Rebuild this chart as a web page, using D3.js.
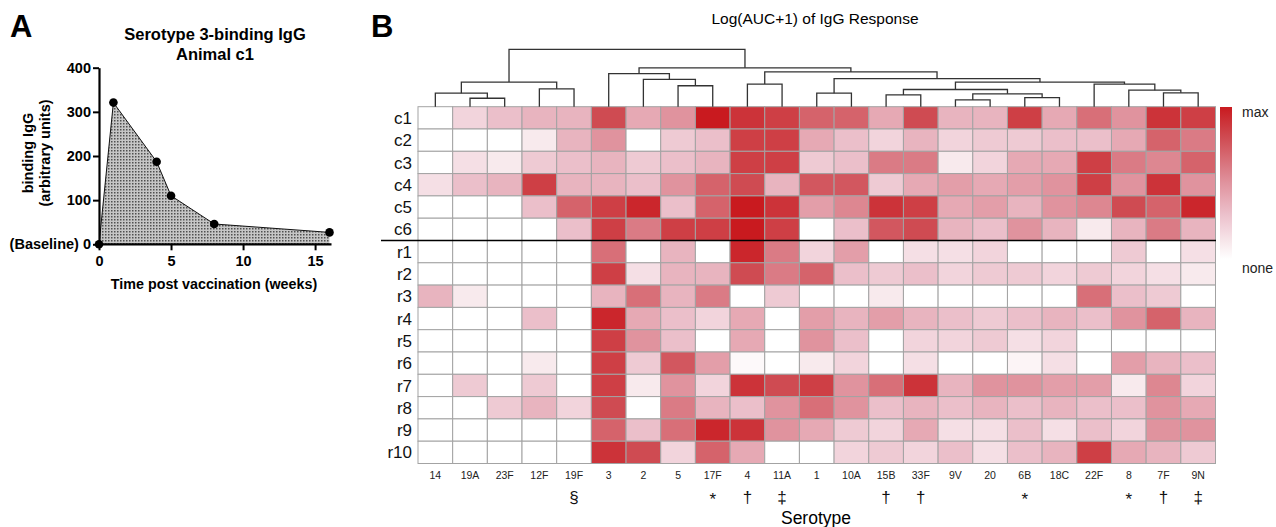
<!DOCTYPE html>
<html>
<head>
<meta charset="utf-8">
<script src="https://cdn.jsdelivr.net/npm/d3@7"></script>
<style>
  body { margin: 0; background: #fff; }
  text { font-family: "Liberation Sans", Arial, sans-serif; }
</style>
</head>
<body>
<div id="chart"></div>
<script>
// ---- panel A data: serotype 3 binding IgG, animal c1
var weeks = [0, 1, 4, 5, 8, 16];
var binding = [0, 321, 187, 110, 46, 27];
var yTicksA = [0, 100, 200, 300, 400];
var xTicksA = [0, 5, 10, 15];

// ---- panel B data
var serotypes = ["14","19A","23F","12F","19F","3","2","5","17F","4","11A","1","10A","15B","33F","9V","20","6B","18C","22F","8","7F","9N"];
var footnotes = ["","","","","§","","","","*","†","‡","","","†","†","","","*","","","*","†","‡"];
var animals = ["c1","c2","c3","c4","c5","c6","r1","r2","r3","r4","r5","r6","r7","r8","r9","r10"];
// response on a 0 (none) .. 10 (max) scale, rows = animals, cols = serotypes
var response = [
  [0,2,3,3.5,3.5,8,4,5,10,9,8.5,7,7,4,8,3.5,3.5,8.5,4,6.5,5,9,8.5],
  [0,0,0,1,3.5,5,0,2.5,3,8.5,8.5,4,3,2,3.5,2,2.5,2.5,3,3,4,7,6],
  [0,1.5,1,2.5,3,3.5,2.5,3,3.5,8.5,8.5,2.5,3,6,6,1,2,4,4,8.5,6,5.5,7],
  [1.5,3,3.5,8.5,3.5,3.5,3,5,7,8,3.5,7.5,7.5,2.5,4,4.5,4,4.5,5,8.5,5,9,5],
  [0,0,0,3,7,8.5,9.5,3,7,10,9,4.5,5.5,9,8.5,4,4.5,3.5,5,5.5,8,7,9.5],
  [0,0,0,0,3,8.5,6,8.5,8.5,10,8.5,0,3,7.5,8,3.5,3,5,3.5,1,3.5,6,3.5],
  [0,0,0,0,0,6.5,0,3.5,0,9.5,6,2,4.5,0,1.5,1.5,2,0,0,0,2.5,0,1.5],
  [0,0,0,0,0,8.5,1.5,3.5,3.5,8,6,7,3,2.5,3,2,2.5,2.5,2,2.5,2,1.5,1],
  [3.5,1,0,0,0,3.5,6.5,3.5,6,0,2.5,0,0,1,0,0,0,0,0,6.5,3,2.5,0],
  [0,0,0,3,0,9.5,4,3,2,4,0,4.5,3.5,4.5,3.5,3,2.5,3,3.5,3,5,7,3.5],
  [0,0,0,0,0,8.5,5,3,0,4,0,5,3,0,2,2,2.5,1.5,2,0,0,0,0],
  [0,0,0,1,0,8.5,2.5,7.5,4.5,0.3,0,1,2,0,1.5,0,0,0.5,1.5,0,4.5,3.5,3],
  [0,2.5,0,2.5,0,8.5,1,5,2,9,8,8.5,5,6.5,9,3.5,5,5,4.5,4.5,1,5.5,2],
  [0,0,2.5,3.5,2,8,0,6,3.5,3,5,6.5,5,3,3.5,3,3.5,3,3.5,3,3,5,4],
  [0,0,0,0,0,7,3,6.5,9.5,9,5,4,2.5,2,4,1.5,1.5,3,1.5,3,2,5,5],
  [0,0,0,0,0,9,8,2,7,4,0,0,2,2.5,2,3,1.5,3,3.5,8.5,4,3.5,2.5]
];
// hierarchical clustering of serotypes: [left, right, height]; leaves 0..22, merges 23..
var linkage = [
  [15,16,20],[1,2,25],[17,18,27],[13,14,35],[23,25,38],[0,24,40],[11,12,40],
  [21,22,41],[20,30,49],[26,27,51],[3,4,53],[7,8,62],[9,10,67],[19,31,67],
  [28,33,73],[32,36,73],[6,34,81],[29,38,83],[5,39,98],[35,40,103],[41,42,115],[37,43,170]
];

var svg = d3.select("#chart").append("svg")
  .attr("width", 1276).attr("height", 527);

var defs = svg.append("defs");
var pat = defs.append("pattern").attr("id", "dots")
  .attr("patternUnits", "userSpaceOnUse").attr("width", 3).attr("height", 3);
pat.append("rect").attr("width", 3).attr("height", 3).attr("fill", "#c6c6c6");
pat.append("rect").attr("x", 0).attr("y", 0).attr("width", 1.5).attr("height", 1.5).attr("fill", "#505050");

// ================= Panel A =================
var gA = svg.append("g");
var xA = d3.scaleLinear().domain([0, 16]).range([99, 329.5]);
var yA = d3.scaleLinear().domain([0, 400]).range([244.3, 67.7]);

gA.append("text").attr("x", 10).attr("y", 37).attr("font-size", 31).attr("font-weight", "bold").text("A");
gA.append("text").attr("x", 215).attr("y", 40).attr("text-anchor", "middle")
  .attr("font-size", 16.5).attr("font-weight", "bold").text("Serotype 3-binding IgG");
gA.append("text").attr("x", 215).attr("y", 60).attr("text-anchor", "middle")
  .attr("font-size", 16.5).attr("font-weight", "bold").text("Animal c1");

var pts = weeks.map(function(w, i) { return [w, binding[i]]; });

gA.append("path").datum(pts)
  .attr("d", d3.area().x(function(d) { return xA(d[0]); }).y0(yA(0)).y1(function(d) { return yA(d[1]); }))
  .attr("fill", "url(#dots)");
gA.append("path").datum(pts)
  .attr("d", d3.line().x(function(d) { return xA(d[0]); }).y(function(d) { return yA(d[1]); }))
  .attr("fill", "none").attr("stroke", "#111").attr("stroke-width", 1);

var yAxisA = gA.append("g").attr("transform", "translate(" + xA(0) + ",0)")
  .call(d3.axisLeft(yA).tickValues(yTicksA).tickSize(6).tickSizeOuter(0)
    .tickFormat(function(d) { return d === 0 ? "(Baseline) 0" : d; }));
var xAxisA = gA.append("g").attr("transform", "translate(0," + yA(0) + ")")
  .call(d3.axisBottom(xA).tickValues(xTicksA).tickSize(6).tickSizeOuter(0));
xAxisA.select(".domain").attr("d", "M" + xA(0) + ",0H" + (xA(16) + 2));
[yAxisA, xAxisA].forEach(function(ax) {
  ax.select(".domain").attr("stroke", "#000").attr("stroke-width", 2.2);
  ax.selectAll(".tick line").attr("stroke", "#000").attr("stroke-width", 2);
  ax.selectAll(".tick text").attr("font-size", 14.5).attr("font-weight", "bold")
    .attr("fill", "#000").attr("font-family", "Liberation Sans, Arial, sans-serif");
});
yAxisA.selectAll(".tick text").attr("x", -8);
xAxisA.selectAll(".tick text").attr("dy", "0.85em");

gA.selectAll(".pt").data(pts).enter().append("circle")
  .attr("cx", function(d) { return xA(d[0]); })
  .attr("cy", function(d) { return yA(d[1]); })
  .attr("r", 4.3).attr("fill", "#000");

gA.append("text").attr("x", 214).attr("y", 289).attr("text-anchor", "middle")
  .attr("font-size", 14.3).attr("font-weight", "bold").text("Time post vaccination (weeks)");
gA.append("text").attr("transform", "translate(33,153) rotate(-90)").attr("text-anchor", "middle")
  .attr("font-size", 14.5).attr("font-weight", "bold").text("binding IgG");
gA.append("text").attr("transform", "translate(50,153) rotate(-90)").attr("text-anchor", "middle")
  .attr("font-size", 14.5).attr("font-weight", "bold").text("(arbitrary units)");

// ================= Panel B =================
var gB = svg.append("g");
var x = d3.scaleBand().domain(serotypes).range([418, 1215.5]);
var y = d3.scaleBand().domain(animals).range([106.7, 463.5]);
var color = d3.scaleLinear().domain([0, 3, 5, 8, 10])
  .range(["#ffffff", "#ebbfca", "#e0939e", "#cf4b52", "#c91a1f"]);

gB.append("text").attr("x", 371).attr("y", 37).attr("font-size", 31).attr("font-weight", "bold").text("B");
gB.append("text").attr("x", 815).attr("y", 24).attr("text-anchor", "middle")
  .attr("font-size", 15.5).text("Log(AUC+1) of IgG Response");

// cells
animals.forEach(function(a, r) {
  gB.selectAll(".cell-" + a).data(response[r]).enter().append("rect")
    .attr("x", function(d, i) { return x(serotypes[i]); })
    .attr("y", y(a))
    .attr("width", x.bandwidth()).attr("height", y.bandwidth())
    .attr("fill", function(d) { return color(d); })
    .attr("stroke", "#a3a3a3").attr("stroke-width", 1);
});

// row labels
gB.selectAll(".rowlab").data(animals).enter().append("text")
  .attr("x", 412).attr("y", function(d) { return y(d) + y.bandwidth() / 2; })
  .attr("dy", "0.36em").attr("text-anchor", "end").attr("font-size", 17).attr("fill", "#111")
  .text(function(d) { return d; });

// separator between c and r animals
gB.append("line").attr("x1", 381).attr("x2", 1216)
  .attr("y1", y("r1")).attr("y2", y("r1"))
  .attr("stroke", "#000").attr("stroke-width", 1.5);

// column labels + footnote symbols
gB.selectAll(".collab").data(serotypes).enter().append("text")
  .attr("x", function(d) { return x(d) + x.bandwidth() / 2; }).attr("y", 479)
  .attr("text-anchor", "middle").attr("font-size", 10.5).attr("fill", "#222")
  .text(function(d) { return d; });
gB.selectAll(".foot").data(serotypes).enter().append("text")
  .attr("x", function(d) { return x(d) + x.bandwidth() / 2; })
  .attr("y", function(d, i) { return footnotes[i] === "*" ? 505 : 503; })
  .attr("text-anchor", "middle").attr("font-size", 17).attr("fill", "#111")
  .text(function(d, i) { return footnotes[i]; });
gB.append("text").attr("x", 816).attr("y", 524).attr("text-anchor", "middle")
  .attr("font-size", 17.5).text("Serotype");

// dendrogram
var h = d3.scaleLinear().domain([0, 170]).range([106.7, 49.3]);
var nodes = serotypes.map(function(s) { return { x: x(s) + x.bandwidth() / 2, h: 0 }; });
linkage.forEach(function(m) {
  nodes.push({ x: (nodes[m[0]].x + nodes[m[1]].x) / 2, h: m[2], l: m[0], r: m[1] });
});
gB.selectAll(".dlink").data(linkage).enter().append("path")
  .attr("d", function(m) {
    var L = nodes[m[0]], R = nodes[m[1]];
    return "M" + L.x + "," + h(L.h) + "V" + h(m[2]) + "H" + R.x + "V" + h(R.h);
  })
  .attr("fill", "none").attr("stroke", "#333").attr("stroke-width", 1.3);

// legend
var lg = defs.append("linearGradient").attr("id", "lg")
  .attr("x1", 0).attr("y1", 1).attr("x2", 0).attr("y2", 0);
d3.range(0, 10.01, 1).forEach(function(v) {
  lg.append("stop").attr("offset", (v / 10 * 100) + "%").attr("stop-color", color(v));
});
gB.append("rect").attr("x", 1220).attr("y", 107).attr("width", 12).attr("height", 152)
  .attr("fill", "url(#lg)");
gB.append("text").attr("x", 1242).attr("y", 117).attr("font-size", 14).attr("fill", "#222").text("max");
gB.append("text").attr("x", 1242).attr("y", 273).attr("font-size", 14).attr("fill", "#222").text("none");
</script>
</body>
</html>
